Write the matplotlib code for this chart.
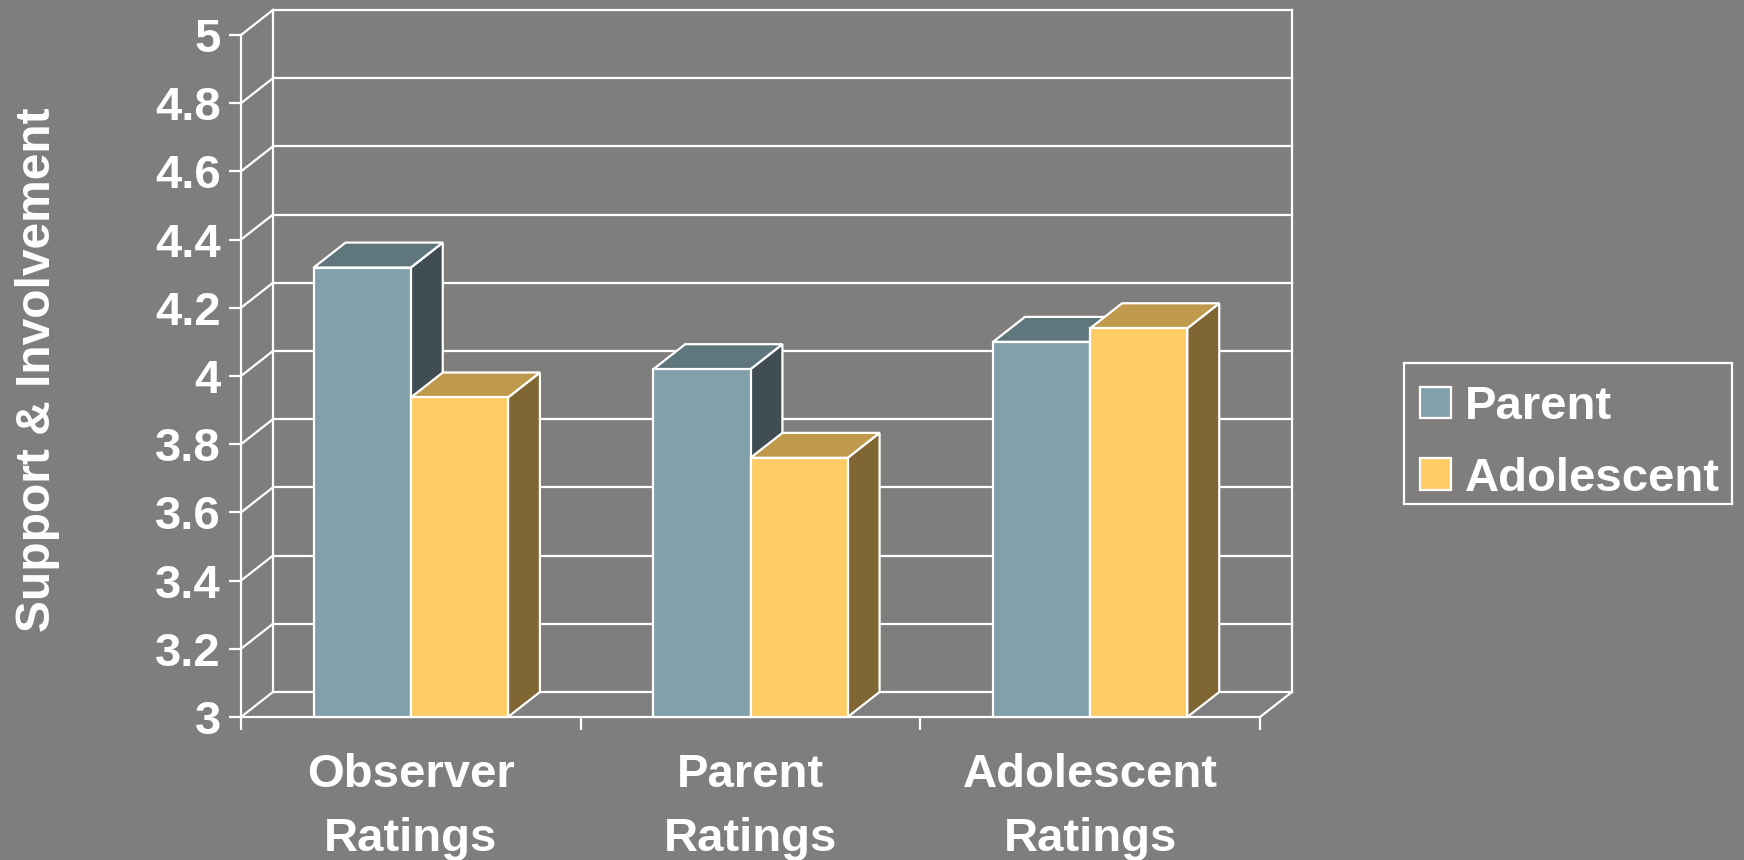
import matplotlib.pyplot as plt
from matplotlib.patches import Patch, Polygon, Rectangle

categories = ['Observer\nRatings', 'Parent\nRatings', 'Adolescent\nRatings']
series_names = ['Parent', 'Adolescent']
parent_values = [4.318, 4.02, 4.10]
adolescent_values = [3.937, 3.76, 4.14]
y_ticks = [3, 3.2, 3.4, 3.6, 3.8, 4, 4.2, 4.4, 4.6, 4.8, 5]
y_tick_labels = ['3', '3.2', '3.4', '3.6', '3.8', '4', '4.2', '4.4', '4.6', '4.8', '5']

BG = '#807e7c'
WHITE = '#ffffff'
PARENT = ('#82a0aa', '#5f767c', '#404e53')  # front, top, side
ADOLESCENT = ('#ffcc66', '#bf994c', '#806633')
BAR_WIDTH = 0.286
DEPTH_X = 0.094  # in category units
DEPTH_Y = 0.0733  # in value units
LW = 1.6

plt.rcParams['font.family'] = ['Liberation Sans', 'DejaVu Sans']
plt.rcParams['font.weight'] = 'bold'

fig = plt.figure(figsize=(17.44, 8.6), dpi=100, facecolor=BG)
ax = fig.add_axes([241 / 1744, (860 - 717) / 860, 1019 / 1744, 682 / 860], facecolor='none')
ax.set_xlim(0, 3)
ax.set_ylim(3, 5)
for spine in ax.spines.values():
    spine.set_visible(False)


def line(xs, ys, z=1):
    ax.plot(xs, ys, color=WHITE, lw=LW, zorder=z, clip_on=False, solid_capstyle='projecting')


# floor
ax.add_patch(Polygon([(0, 3), (3, 3), (3 + DEPTH_X, 3 + DEPTH_Y), (DEPTH_X, 3 + DEPTH_Y)],
                     closed=True, facecolor='#7f7f7f', edgecolor='none', zorder=0, clip_on=False))

# back wall and side wall
for tick in y_ticks:
    line([DEPTH_X, 3 + DEPTH_X], [tick + DEPTH_Y, tick + DEPTH_Y])
    line([0, DEPTH_X], [tick, tick + DEPTH_Y])
line([0, 0], [3, 5])
line([DEPTH_X, DEPTH_X], [3 + DEPTH_Y, 5 + DEPTH_Y])
line([3 + DEPTH_X, 3 + DEPTH_X], [3 + DEPTH_Y, 5 + DEPTH_Y])
line([3, 3 + DEPTH_X], [3, 3 + DEPTH_Y])
line([0, 3], [3, 3])


def draw_bar(left, value, colors, z):
    right = left + BAR_WIDTH
    top = [(left, value), (right, value), (right + DEPTH_X, value + DEPTH_Y), (left + DEPTH_X, value + DEPTH_Y)]
    side = [(right, 3), (right + DEPTH_X, 3 + DEPTH_Y), (right + DEPTH_X, value + DEPTH_Y), (right, value)]
    ax.add_patch(Polygon(side, closed=True, facecolor=colors[2], edgecolor=WHITE, lw=LW, zorder=z, clip_on=False))
    ax.add_patch(Polygon(top, closed=True, facecolor=colors[1], edgecolor=WHITE, lw=LW, zorder=z, clip_on=False))
    ax.bar(left, value - 3, width=BAR_WIDTH, bottom=3, align='edge', color=colors[0],
           edgecolor=WHITE, linewidth=LW, zorder=z + 0.5, clip_on=False)


for i in range(len(categories)):
    center = i + 0.5
    draw_bar(center - BAR_WIDTH, parent_values[i], PARENT, 3 + i * 2)
    draw_bar(center, adolescent_values[i], ADOLESCENT, 4 + i * 2)

# axes ticks
ax.set_yticks(y_ticks)
ax.set_yticklabels(y_tick_labels)
ax.tick_params(axis='y', length=8.6, width=LW, color=WHITE, labelcolor=WHITE, labelsize=34, pad=6)
ax.set_xticks([0, 1, 2, 3])
ax.set_xticklabels([])
ax.tick_params(axis='x', which='major', length=9, width=LW, color=WHITE)
ax.set_xticks([0.5, 1.5, 2.5], minor=True)
ax.set_xticklabels(categories, minor=True, linespacing=1.58)
ax.tick_params(axis='x', which='minor', length=0, labelcolor=WHITE, labelsize=34, pad=26)

fig.text(38 / 1744, 1 - 370 / 860, 'Support & Involvement', rotation=90, color=WHITE,
         fontsize=34.5, ha='center', va='center')

# legend frame is drawn apart, its padding is not even top and bottom
fig.add_artist(Rectangle((1404 / 1744, 1 - 504 / 860), 328 / 1744, 141 / 860, transform=fig.transFigure,
                         facecolor='none', edgecolor=WHITE, lw=LW))
handles = [Patch(facecolor=PARENT[0], edgecolor=WHITE, lw=LW),
           Patch(facecolor=ADOLESCENT[0], edgecolor=WHITE, lw=LW)]
legend = fig.legend(handles, series_names, loc='upper left', bbox_to_anchor=(1420 / 1744, 1 - 385 / 860),
                    bbox_transform=fig.transFigure, fontsize=34, labelcolor=WHITE, frameon=False,
                    borderaxespad=0, borderpad=0, labelspacing=0.59, handlelength=0.66,
                    handleheight=0.66, handletextpad=0.28)

fig.savefig('out.png', dpi=100, facecolor=BG)
